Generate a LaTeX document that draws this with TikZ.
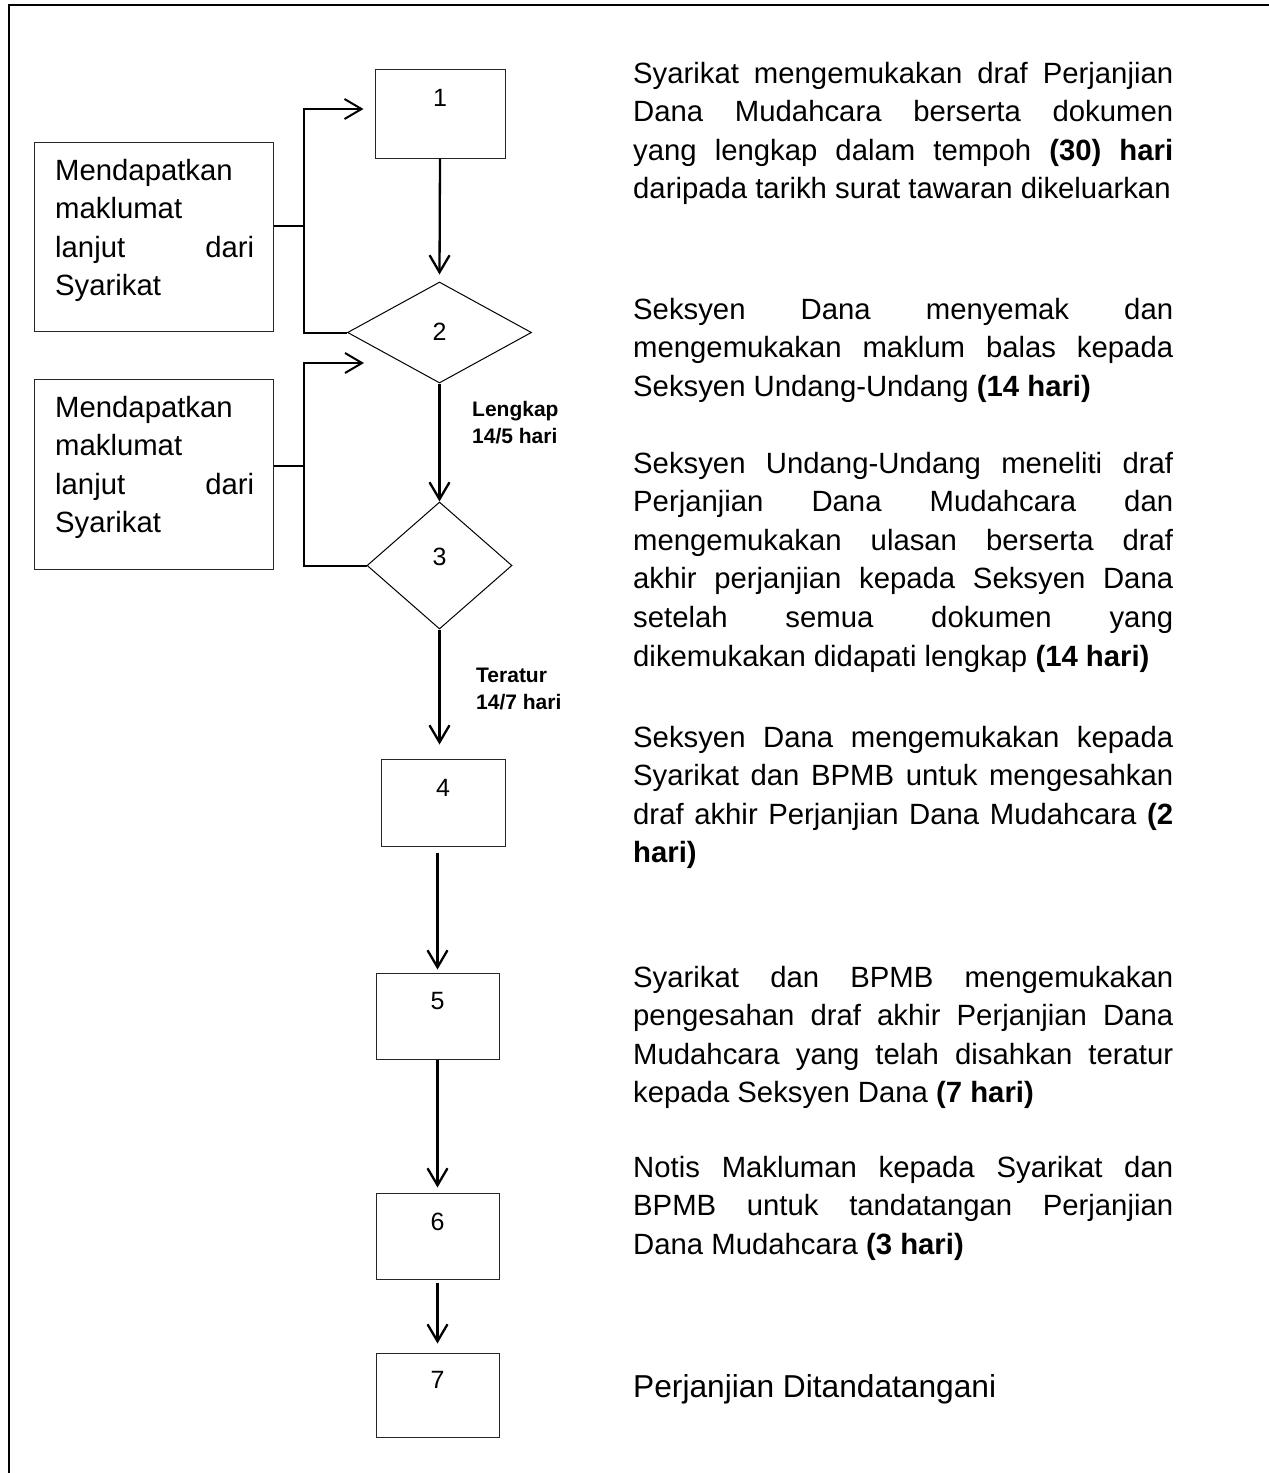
\documentclass[tikz,border=0pt]{standalone}
\usepackage{fontspec}
\setmainfont{Liberation Sans}
\usetikzlibrary{arrows.meta,shapes.geometric,calc}
\newcommand\jtext[2]{\vtop{\hsize=#1\relax\parindent=0pt\leftskip=0pt\rightskip=0pt\parfillskip=0pt plus 1fil\relax\tolerance=10000\hbadness=10000\relax\noindent#2\par}}
\tikzset{
  procbox/.style={draw=black!85, line width=1pt, inner sep=0pt},
  decision/.style={diamond, draw=black, line width=1pt, inner sep=0pt},
  num/.style={font=\fontsize{25pt}{30pt}\selectfont, inner sep=0pt, anchor=center},
  arr/.style={line width=2.3pt, -{Straight Barb[length=17pt,width=20pt]}},
  looparr/.style={line width=2pt, -{Straight Barb[length=17pt,width=20pt]}},
  stub/.style={line width=1.6pt},
  body/.style={font=\fontsize{29.3pt}{38.6pt}\selectfont, inner sep=0pt, anchor=base west},
  smalllbl/.style={font=\bfseries\fontsize{21pt}{27pt}\selectfont, inner sep=0pt, anchor=base west},
}
\begin{document}
\begin{tikzpicture}[x=1pt,y=-1pt]
\useasboundingbox (0,0) rectangle (1269,1473);
% frame (top and left edges visible)
\draw[line width=2.5pt] (9,1473) -- (9,5) -- (1269,5);

% main flow nodes
\node[procbox, minimum width=130pt, minimum height=89pt,
      label={[num,yshift=-29pt]north:1}] (b1) at (440,113.5) {};
\node[decision, minimum width=184pt, minimum height=101pt,
      label={[num,yshift=-50pt]north:2}] (d2) at (439.5,332.5) {};
\node[decision, minimum width=145pt, minimum height=127pt,
      label={[num,yshift=-55pt]north:3}] (d3) at (439.5,565.5) {};
\node[procbox, minimum width=124pt, minimum height=87pt,
      label={[num,yshift=-29pt]north:4}] (b4) at (443,802.5) {};
\node[procbox, minimum width=123pt, minimum height=86pt,
      label={[num,yshift=-29pt]north:5}] (b5) at (437.5,1016) {};
\node[procbox, minimum width=123pt, minimum height=86pt,
      label={[num,yshift=-29pt]north:6}] (b6) at (437.5,1236) {};
\node[procbox, minimum width=123pt, minimum height=84pt,
      label={[num,yshift=-27pt]north:7}] (b7) at (437.5,1395) {};

% side boxes
\node[procbox, minimum width=239pt, minimum height=189pt] (LA) at (153.5,236.5) {};
\node[procbox, minimum width=239pt, minimum height=190pt] (LB) at (153.5,474) {};
\node[body] (la) at (55,180) {\jtext{199pt}{Mendapatkan\newline maklumat\newline lanjut dari\linebreak Syarikat}};
\node[body] (lb) at (55,417) {\jtext{199pt}{Mendapatkan\newline maklumat\newline lanjut dari\linebreak Syarikat}};

% junctions
\coordinate (ja) at (304,226);
\coordinate (jb) at (304,466);
\coordinate (tb) at (364,363);

% main arrows
\draw[arr] (b1.south) -- ([yshift=7pt]d2.north);
\draw[arr] (d2.south) -- (d3.north);
\draw[arr] (d3.south) -- ([yshift=14pt]d3.south |- b4.north);
\draw[arr] ([yshift=-6pt]b5.north |- b4.south) -- ([yshift=3pt]b5.north);
\draw[arr] (b5.south) -- ([yshift=5pt]b6.north);
\draw[arr] ([yshift=-3pt]b6.south) -- ([yshift=9pt]b7.north);

% loops
\draw[stub] (LA.east |- ja) -- (ja);
\draw[looparr] (d2.west) -| (ja) |- ([yshift=4.5pt,xshift=-11pt]b1.west);
\draw[stub] (LB.east |- jb) -- (jb);
\draw[looparr] (d3.west) -| (jb) |- (tb);

% arrow labels
\node[smalllbl] (lk) at (472,416) {\jtext{120pt}{Lengkap\newline 14/5 hari}};
\node[smalllbl] (tr) at (476,682) {\jtext{120pt}{Teratur\newline 14/7 hari}};

% descriptions
\node[body] (t1) at (633,83) {\jtext{540pt}{Syarikat mengemukakan draf Perjanjian\linebreak Dana Mudahcara berserta dokumen\linebreak yang lengkap dalam tempoh \textbf{(30) hari}\linebreak daripada tarikh surat tawaran dikeluarkan}};
\node[body] (t2) at (633,319) {\jtext{540pt}{Seksyen Dana menyemak dan\linebreak mengemukakan maklum balas kepada\linebreak Seksyen Undang-Undang \textbf{(14 hari)}}};
\node[body] (t3) at (633,473) {\jtext{540pt}{Seksyen Undang-Undang meneliti draf\linebreak Perjanjian Dana Mudahcara dan\linebreak mengemukakan ulasan berserta draf\linebreak akhir perjanjian kepada Seksyen Dana\linebreak setelah semua dokumen yang\linebreak dikemukakan didapati lengkap \textbf{(14 hari)}}};
\node[body] (t4) at (633,747) {\jtext{540pt}{Seksyen Dana mengemukakan kepada\linebreak Syarikat dan BPMB untuk mengesahkan\linebreak draf akhir Perjanjian Dana Mudahcara \textbf{(2}\linebreak \textbf{hari)}}};
\node[body] (t5) at (633,987) {\jtext{540pt}{Syarikat dan BPMB mengemukakan\linebreak pengesahan draf akhir Perjanjian Dana\linebreak Mudahcara yang telah disahkan teratur\linebreak kepada Seksyen Dana \textbf{(7 hari)}}};
\node[body] (t6) at (633,1177) {\jtext{540pt}{Notis Makluman kepada Syarikat dan\linebreak BPMB untuk tandatangan Perjanjian\linebreak Dana Mudahcara \textbf{(3 hari)}}};
\node[body, font=\fontsize{31.7pt}{38pt}\selectfont] (t7) at (633,1397) {Perjanjian Ditandatangani};
\end{tikzpicture}
\end{document}
